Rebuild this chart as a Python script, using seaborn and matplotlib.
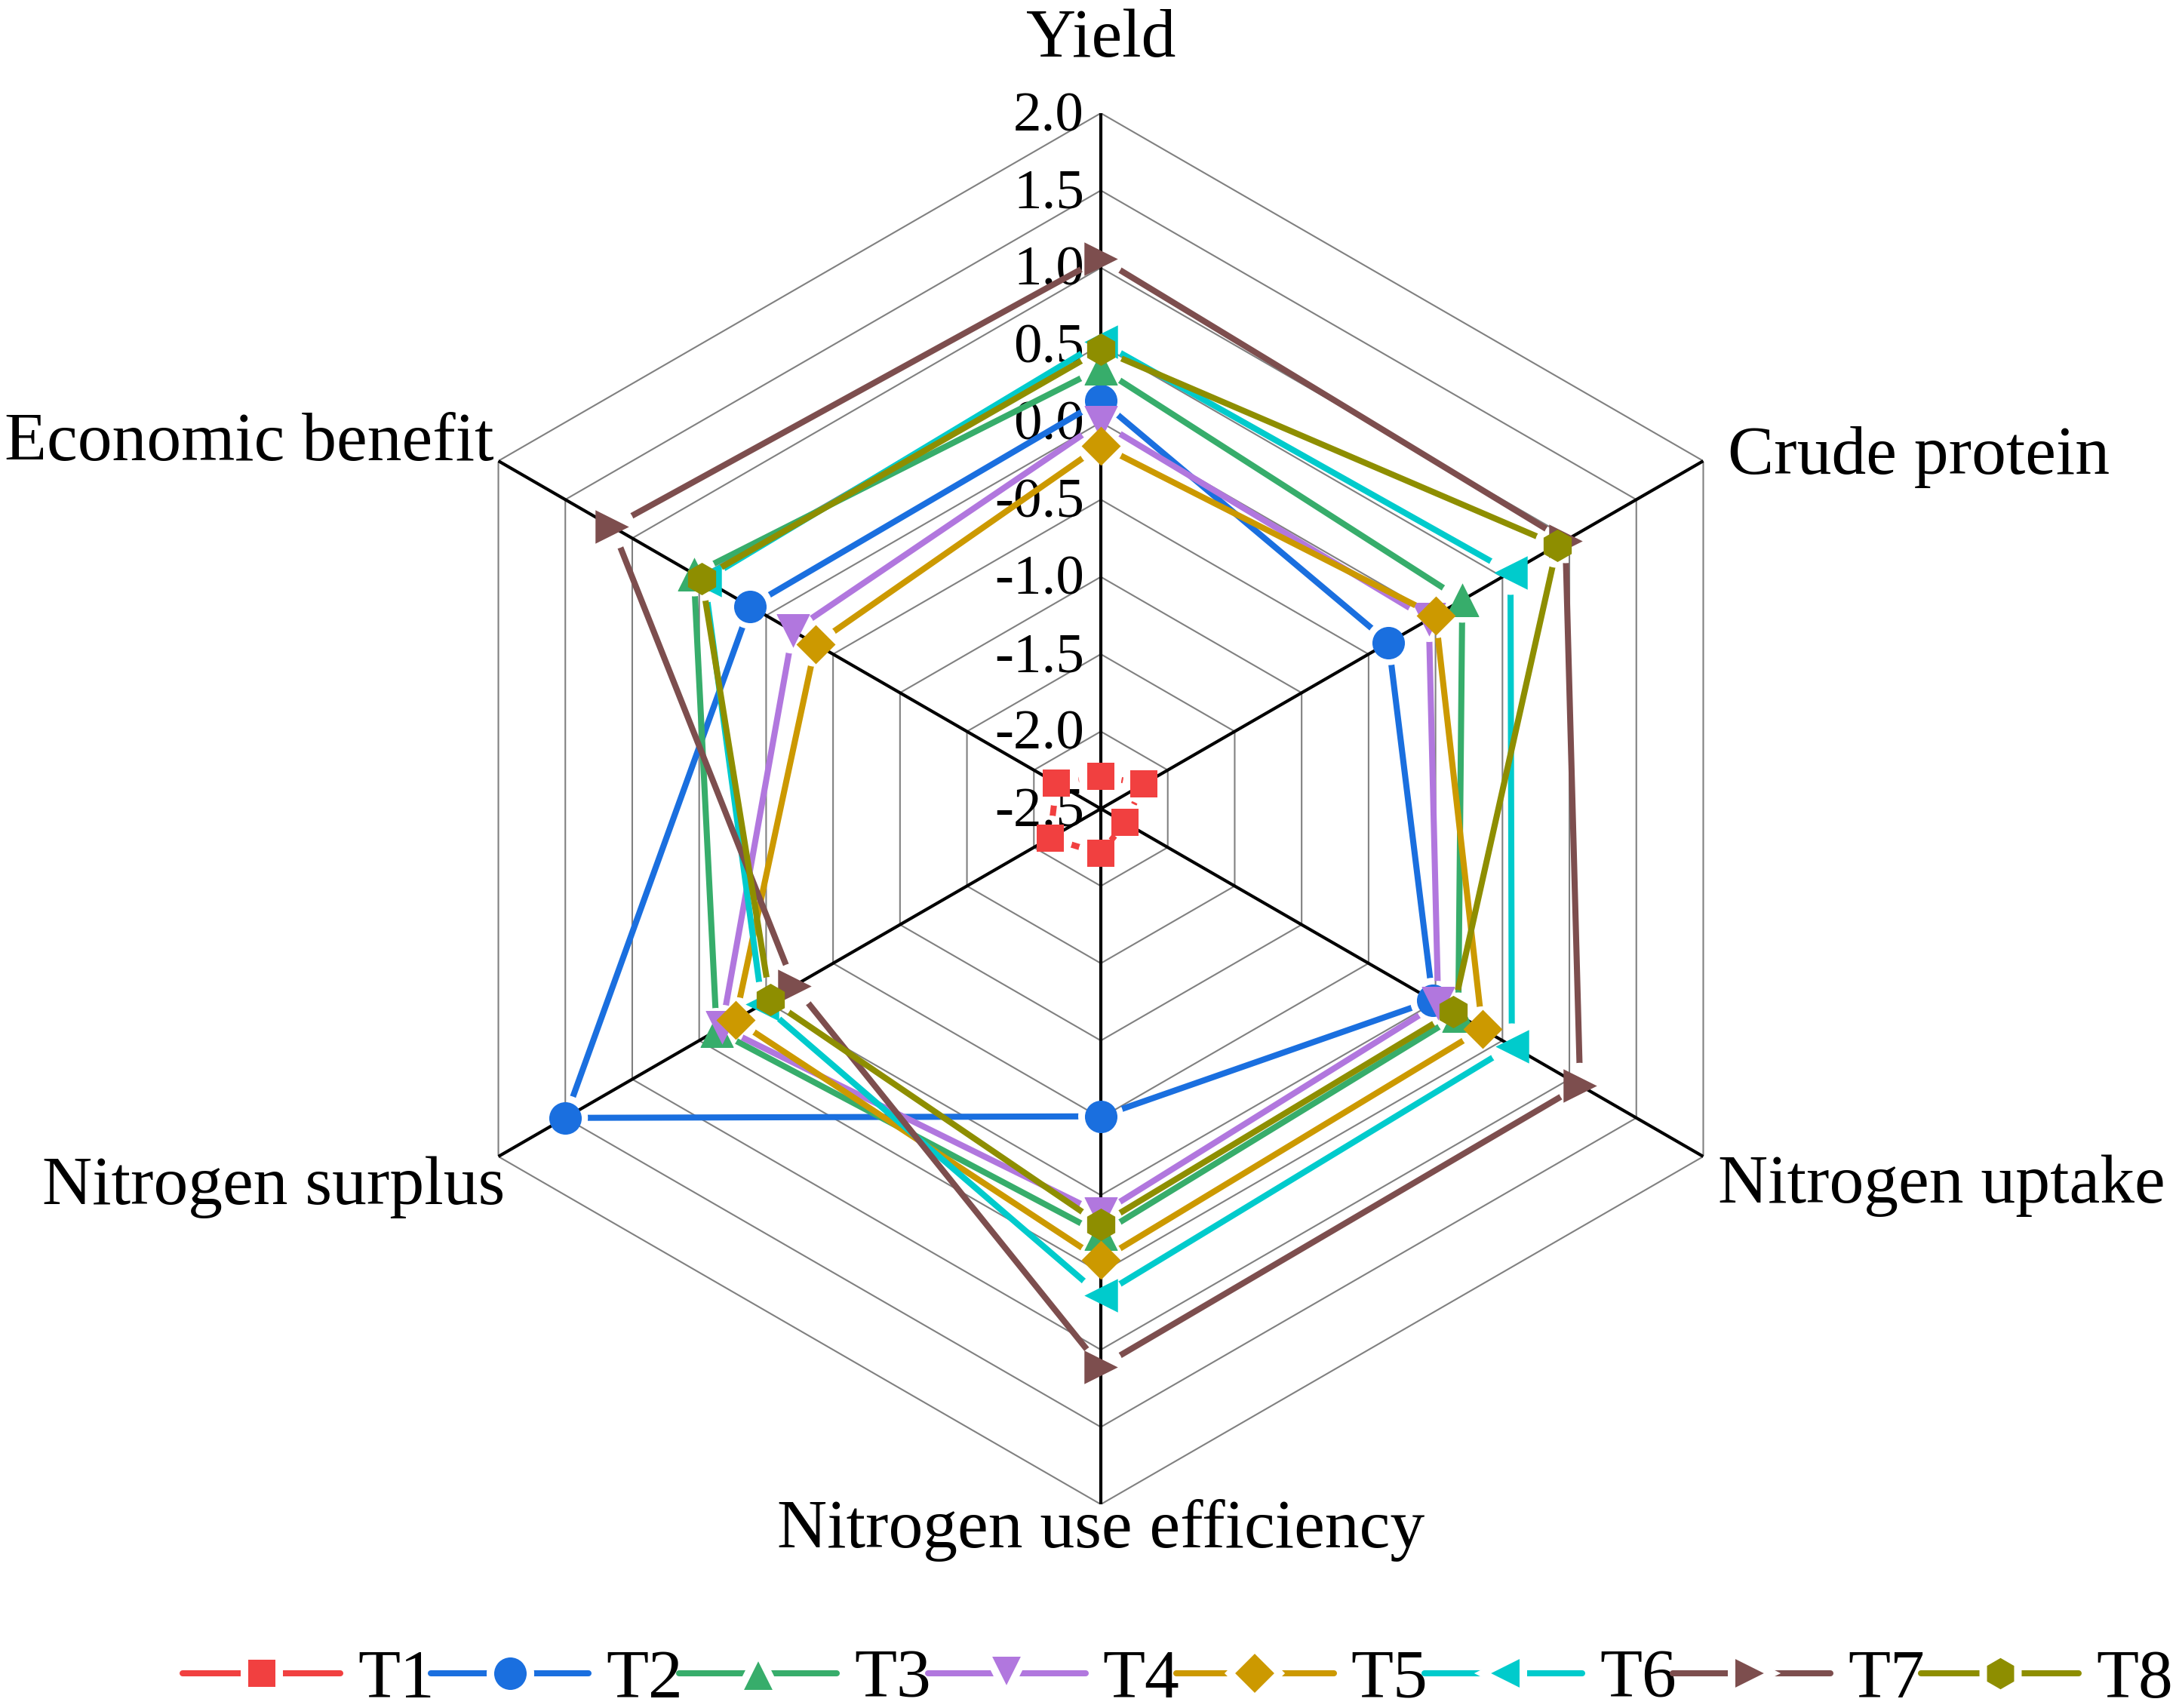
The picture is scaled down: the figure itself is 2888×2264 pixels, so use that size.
import numpy as np
import pandas as pd
import seaborn as sns
import matplotlib.pyplot as plt
from matplotlib.lines import Line2D
from matplotlib.path import Path
from matplotlib.transforms import IdentityTransform

sns.set_style("white")
plt.rcParams["font.family"] = ["Liberation Serif", "DejaVu Serif"]
plt.rcParams["text.color"] = "black"

# --- data ---
categories = ["Yield", "Crude protein", "Nitrogen uptake",
              "Nitrogen use efficiency", "Nitrogen surplus", "Economic benefit"]
treatments = ["T1", "T2", "T3", "T4", "T5", "T6", "T7", "T8"]

t1 = [-2.29, -2.18, -2.32, -2.21, -2.12, -2.17]
t2 = [0.14, -0.35, -0.02, -0.51, 1.50, 0.12]
t3 = [0.35, 0.20, 0.17, 0.25, 0.37, 0.54]
t4 = [0.00, -0.05, 0.02, 0.12, 0.33, -0.20]
t5 = [-0.15, 0.00, 0.35, 0.42, 0.23, -0.37]
t6 = [0.52, 0.56, 0.57, 0.65, 0.03, 0.46]
t7 = [1.06, 0.97, 1.08, 1.11, -0.21, 1.15]
t8 = [0.47, 0.91, 0.13, 0.19, -0.03, 0.48]
series = [t1, t2, t3, t4, t5, t6, t7, t8]

r_ticks = [2.0, 1.5, 1.0, 0.5, 0.0, -0.5, -1.0, -1.5, -2.0, -2.5]

colors = ["#F14040", "#1A6FDF", "#37AD6B", "#B177DE",
          "#CC9900", "#00CBCC", "#7D4E4E", "#8E8E00"]
markers = ["s", "o", "^", "v", "D", "<", ">", "h"]
msizes = [13.3, 15.5, 16, 16, 13.2, 16, 16, 15.5]

# long table, each polygon closed back to its first axis
angles = np.linspace(0, 2 * np.pi, len(categories), endpoint=False)
ang_closed = np.append(angles, 2 * np.pi)
rows = []
for name, vals in zip(treatments, series):
    for a, v in zip(ang_closed, vals + vals[:1]):
        rows.append({"group": name, "angle": a, "value": v})
df = pd.DataFrame(rows)

W, H, DPI = 2888, 2264, 200
fig = plt.figure(figsize=(W / DPI, H / DPI), dpi=DPI)
R = 922
cx, cy = 1459, 1072
ax = fig.add_axes([(cx - R) / W, (H - cy - R) / H, 2 * R / W, 2 * R / H],
                  projection="polar")
ax.set_theta_zero_location("N")
ax.set_theta_direction(-1)
ax.set_ylim(-2.5, 2.0)
ax.grid(False)
ax.spines["polar"].set_visible(False)
ax.set_xticks([])
ax.set_yticks([])

# hexagon grid and black spokes
for lv in r_ticks[:-1]:
    ax.plot(ang_closed, [lv] * len(ang_closed), color="#808080", lw=0.75, zorder=1)
for a in angles:
    ax.plot([a, a], [-2.5, 2.0], color="black", lw=1.5, zorder=1.5)

# radial labels along the top spoke
for lv in r_ticks:
    ax.annotate(f"{lv:.1f}", xy=(0, lv), xytext=(-22, -23), textcoords="offset pixels",
                ha="right", va="baseline", fontsize=27, zorder=2)

# axis names
label_offsets = [(0, 75, "center"), (33, -17, "left"), (20, -61, "left"),
                 (0, -57, "center"), (9, -63, "right"), (-6, 1, "right")]
for a, cat, (dx, dy, ha) in zip(angles, categories, label_offsets):
    ax.annotate(cat, xy=(a, 2.0), xytext=(dx, dy), textcoords="offset pixels",
                ha=ha, va="baseline", fontsize=33, annotation_clip=False)


def gap_clip(vals, rad=30):
    # clip path with a hole round every symbol, so the line stops short of it
    pts = ax.transData.transform(np.column_stack([angles, vals]))
    box = Path([(0, 0), (W, 0), (W, H), (0, H), (0, 0)], closed=True)
    t = np.linspace(2 * np.pi, 0, 49)
    holes = [Path(np.column_stack([x + rad * np.cos(t), y + rad * np.sin(t)]), closed=True)
             for x, y in pts]
    return Path.make_compound_path(box, *holes)


# one lineplot per treatment, symbols on top of its own line
for i, name in enumerate(treatments):
    sub = df[df["group"] == name]
    sns.lineplot(data=sub, x="angle", y="value", sort=False, estimator=None,
                 color=colors[i], lw=2.9, solid_capstyle="round", ax=ax,
                 zorder=3 + i * 0.1, legend=False)
    ax.lines[-1].set_clip_path(gap_clip(series[i]), IdentityTransform())
    sns.scatterplot(data=sub.iloc[:-1], x="angle", y="value", color=colors[i],
                    marker=markers[i], s=msizes[i] ** 2, linewidth=0, ax=ax,
                    zorder=3.05 + i * 0.1, legend=False)
ax.set_xlabel("")
ax.set_ylabel("")

handles = [Line2D([], [], color=c, marker=m, markersize=s + 3.6, markeredgewidth=3.6,
                  markeredgecolor="white", markerfacecolor=c, lw=2.9,
                  solid_capstyle="round")
           for c, m, s in zip(colors, markers, msizes)]
fig.legend(handles, treatments, loc="center", bbox_to_anchor=(1561 / W, 1 - 2227 / H),
           ncol=8, frameon=False, fontsize=33, handlelength=2.28, handletextpad=0.25,
           columnspacing=-0.05, numpoints=1)

fig.savefig("out.png", dpi=DPI, facecolor="white")
